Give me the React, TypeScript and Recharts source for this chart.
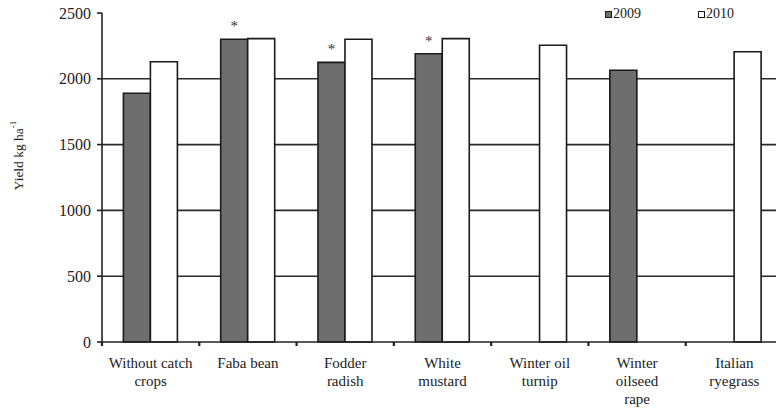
import React from 'react';
import { BarChart, Bar, XAxis, YAxis, CartesianGrid, LabelList, Label } from 'recharts';

const categories = [
  'Without catch crops',
  'Faba bean',
  'Fodder radish',
  'White mustard',
  'Winter oil turnip',
  'Winter oilseed rape',
  'Italian ryegrass',
];
const categoryLines = [
  ['Without catch', 'crops'],
  ['Faba bean'],
  ['Fodder', 'radish'],
  ['White', 'mustard'],
  ['Winter oil', 'turnip'],
  ['Winter', 'oilseed', 'rape'],
  ['Italian', 'ryegrass'],
];
const yield2009: (number | null)[] = [1890, 2300, 2125, 2190, null, 2065, null];
const yield2010: (number | null)[] = [2130, 2305, 2300, 2305, 2255, null, 2205];
const significant2009 = [false, true, true, true, false, false, false];
const seriesNames = ['2009', '2010'];
const seriesFills = ['#6e6e6e', '#ffffff'];
const yTicks = [0, 500, 1000, 1500, 2000, 2500];
const gridValues = [500, 1000, 1500, 2000];

const FONT = "'Liberation Serif', Tinos, 'Times New Roman', 'Nimbus Roman', 'DejaVu Serif', serif";
const INK = '#222';

const data = categories.map((name, i) => ({
  name,
  y2009: yield2009[i],
  y2010: yield2010[i],
}));

const CategoryTick = (props: any) => {
  const { x, y, payload, width, visibleTicksCount, index } = props;
  const i = payload?.index ?? index;
  const lines = categoryLines[i] || [String(payload.value)];
  const band = width / visibleTicksCount;
  const edge = x - band / 2;
  return (
    <g>
      <line x1={edge} x2={edge} y1={y} y2={y + 4} stroke={INK} strokeWidth={2.2} />
      <text x={x} y={y + 26} textAnchor="middle" style={{ fontFamily: FONT }} fontSize={15} fill={INK}>
        {lines.map((ln: string, k: number) => (
          <tspan key={k} x={x} dy={k === 0 ? 0 : 18}>
            {ln}
          </tspan>
        ))}
      </text>
    </g>
  );
};

// Significance marker above selected 2009 bars
const Asterisk = (props: any) => {
  const { x, y, width, index } = props;
  if (!significant2009[index]) return null;
  return (
    <text
      x={x + width / 2}
      y={y - 8}
      textAnchor="middle"
      style={{ fontFamily: FONT, fill: '#333' }}
      fontSize={15}
    >
      *
    </text>
  );
};

const YTitle = (props: any) => {
  const vb = props.viewBox || {};
  const cx = (vb.x ?? 0) + 18;
  const cy = (vb.y ?? 0) + (vb.height ?? 0) / 2 - 22;
  return (
    <text
      x={cx}
      y={cy}
      transform={`rotate(-90, ${cx}, ${cy})`}
      textAnchor="middle"
      dominantBaseline="central"
      style={{ fontFamily: FONT }}
      fontSize={13.5}
      fill={INK}
    >
      Yield kg ha
      <tspan fontSize={9} dy={-5}>-1</tspan>
    </text>
  );
};

export default function App() {
  return (
    <div
      style={{
        position: 'absolute',
        left: 0,
        top: 0,
        width: 776,
        height: 408,
        overflow: 'hidden',
        background: '#fff',
        fontFamily: FONT,
      }}
    >
      <BarChart
        width={800}
        height={408}
        data={data}
        margin={{ top: 13, right: 17, bottom: 0, left: 0 }}
        barCategoryGap="22%"
        barGap={0}
        style={{ fontFamily: FONT }}
      >
        <CartesianGrid vertical={false} horizontalValues={gridValues} stroke="#2a2a2a" strokeWidth={1.6} />
        <XAxis
          dataKey="name"
          height={66}
          interval={0}
          tickSize={0}
          tickMargin={0}
          tick={<CategoryTick />}
          axisLine={{ stroke: INK, strokeWidth: 1.6 }}
        />
        <YAxis
          width={102}
          domain={[0, 2500]}
          ticks={yTicks}
          interval={0}
          tickSize={5}
          tickMargin={6}
          tickLine={{ stroke: INK, strokeWidth: 1.6 }}
          axisLine={{ stroke: INK, strokeWidth: 1.6 }}
          tick={{ fill: INK, fontSize: 16, style: { fontFamily: FONT } }}
        >
          <Label content={<YTitle />} />
        </YAxis>
        <Bar
          dataKey="y2009"
          name={seriesNames[0]}
          fill={seriesFills[0]}
          stroke="#1a1a1a"
          strokeWidth={1.6}
          isAnimationActive={false}
        >
          <LabelList dataKey="y2009" content={<Asterisk />} />
        </Bar>
        <Bar
          dataKey="y2010"
          name={seriesNames[1]}
          fill={seriesFills[1]}
          stroke="#1a1a1a"
          strokeWidth={1.6}
          isAnimationActive={false}
        />
      </BarChart>
      <div
        style={{
          position: 'absolute',
          top: 7,
          left: 605,
          display: 'flex',
          fontSize: 14,
          color: INK,
          lineHeight: '14px',
        }}
      >
        {seriesNames.map((s, i) => (
          <div key={s} style={{ display: 'flex', alignItems: 'center', width: 93 }}>
            <span
              style={{
                display: 'inline-block',
                width: 5,
                height: 5,
                border: '1.5px solid #1a1a1a',
                background: seriesFills[i],
                marginRight: 1,
              }}
            />
            <span>{s}</span>
          </div>
        ))}
      </div>
    </div>
  );
}
